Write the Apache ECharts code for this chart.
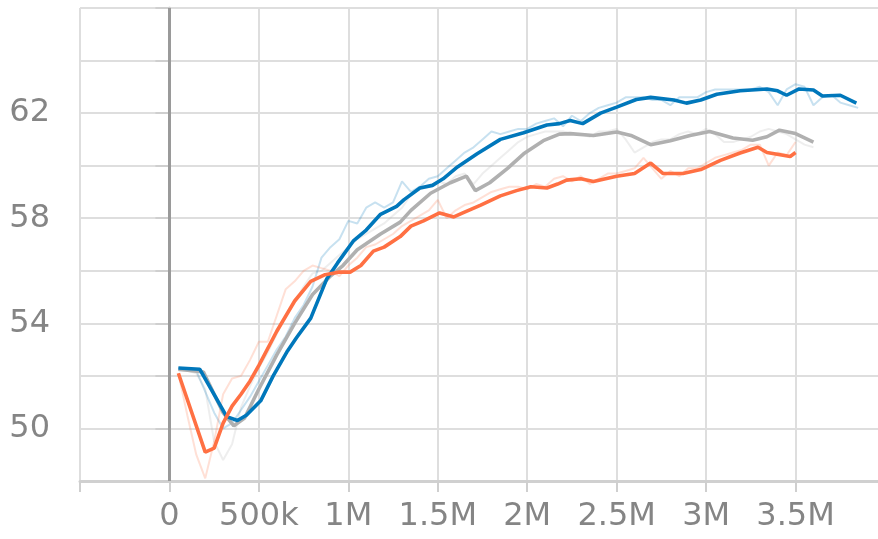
<!DOCTYPE html>
<html>
<head>
<meta charset="utf-8">
<script src="https://cdn.jsdelivr.net/npm/echarts@6/dist/echarts.min.js"></script>
<style>
  html, body { margin: 0; padding: 0; background: #fff; }
  #chart { width: 878px; height: 539px; }
</style>
</head>
<body>
<div id="chart"></div>
<script>
// Steps are in millions; each run has a raw trace and a smoothed trace.
const xTickLabels = { '0': '0', '0.5': '500k', '1': '1M', '1.5': '1.5M', '2': '2M', '2.5': '2.5M', '3': '3M', '3.5': '3.5M' };
const yTickLabels = [50, 54, 58, 62];

const orangeSmooth = [[0.05,52.1],[0.2,49.1],[0.25,49.25],[0.3,50.2],[0.35,50.85],[0.4,51.3],[0.45,51.8],[0.5,52.4],[0.6,53.7],[0.7,54.85],[0.79,55.6],[0.87,55.85],[0.95,55.95],[1.01,55.95],[1.07,56.2],[1.14,56.75],[1.2,56.9],[1.29,57.3],[1.35,57.7],[1.42,57.9],[1.51,58.2],[1.59,58.05],[1.64,58.2],[1.74,58.5],[1.85,58.85],[1.94,59.05],[2.02,59.2],[2.11,59.15],[2.17,59.3],[2.22,59.45],[2.3,59.5],[2.37,59.4],[2.5,59.6],[2.6,59.7],[2.69,60.1],[2.76,59.7],[2.87,59.7],[2.97,59.85],[3.08,60.2],[3.19,60.48],[3.29,60.7],[3.34,60.5],[3.43,60.4],[3.47,60.35],[3.5,60.5]];
const orangeRaw = [[0.05,52.1],[0.1,50.5],[0.15,49.0],[0.2,48.1],[0.25,49.5],[0.3,51.3],[0.35,51.9],[0.4,52.0],[0.45,52.6],[0.5,53.3],[0.55,53.3],[0.6,54.3],[0.65,55.3],[0.7,55.6],[0.75,56.0],[0.8,56.2],[0.85,56.1],[0.9,56.0],[0.95,55.8],[1.0,56.2],[1.05,56.5],[1.1,56.9],[1.15,57.0],[1.2,57.2],[1.25,57.4],[1.3,57.7],[1.35,57.9],[1.4,58.1],[1.45,58.3],[1.5,58.7],[1.55,58.0],[1.6,58.3],[1.65,58.5],[1.7,58.6],[1.75,58.8],[1.8,59.0],[1.85,59.1],[1.9,59.2],[1.95,59.2],[2.0,59.1],[2.05,59.3],[2.1,59.2],[2.15,59.5],[2.2,59.6],[2.25,59.4],[2.3,59.6],[2.35,59.3],[2.4,59.5],[2.45,59.7],[2.5,59.7],[2.55,59.8],[2.6,59.9],[2.65,60.3],[2.7,59.9],[2.75,59.5],[2.8,59.8],[2.85,59.6],[2.9,59.9],[2.95,59.9],[3.0,60.1],[3.05,60.3],[3.1,60.4],[3.15,60.5],[3.2,60.6],[3.25,60.8],[3.3,60.8],[3.35,60.0],[3.4,60.5],[3.45,60.4],[3.5,60.9]];

const blueSmooth = [[0.05,52.3],[0.17,52.25],[0.32,50.45],[0.38,50.3],[0.43,50.5],[0.51,51.05],[0.58,52.0],[0.66,52.95],[0.71,53.45],[0.79,54.2],[0.88,55.7],[0.94,56.3],[1.03,57.15],[1.1,57.55],[1.18,58.15],[1.27,58.45],[1.31,58.7],[1.4,59.15],[1.47,59.25],[1.53,59.5],[1.61,59.95],[1.72,60.45],[1.85,61.0],[1.98,61.25],[2.11,61.55],[2.18,61.6],[2.24,61.72],[2.31,61.6],[2.41,62.0],[2.5,62.23],[2.61,62.52],[2.69,62.6],[2.82,62.5],[2.89,62.38],[2.97,62.5],[3.06,62.72],[3.19,62.85],[3.34,62.92],[3.4,62.85],[3.45,62.68],[3.52,62.92],[3.6,62.88],[3.65,62.65],[3.75,62.68],[3.84,62.38]];
const blueRaw = [[0.05,52.3],[0.1,52.3],[0.15,52.2],[0.2,51.4],[0.25,50.6],[0.3,50.0],[0.35,50.2],[0.4,50.7],[0.45,51.2],[0.5,51.8],[0.55,52.4],[0.6,53.0],[0.65,53.5],[0.7,54.2],[0.75,54.7],[0.8,55.4],[0.85,56.5],[0.9,56.9],[0.95,57.2],[1.0,57.9],[1.05,57.8],[1.1,58.4],[1.15,58.6],[1.2,58.4],[1.25,58.6],[1.3,59.4],[1.35,59.0],[1.4,59.2],[1.45,59.5],[1.5,59.6],[1.55,59.9],[1.6,60.2],[1.65,60.5],[1.7,60.7],[1.75,61.0],[1.8,61.3],[1.85,61.2],[1.9,61.3],[1.95,61.4],[2.0,61.4],[2.05,61.6],[2.1,61.7],[2.15,61.8],[2.2,61.5],[2.25,61.9],[2.3,61.7],[2.35,62.0],[2.4,62.2],[2.45,62.3],[2.5,62.4],[2.55,62.6],[2.6,62.6],[2.65,62.6],[2.7,62.5],[2.75,62.5],[2.8,62.3],[2.85,62.6],[2.9,62.6],[2.95,62.6],[3.0,62.8],[3.05,62.9],[3.1,62.9],[3.15,62.9],[3.2,62.9],[3.25,62.9],[3.3,63.0],[3.35,62.8],[3.4,62.3],[3.45,62.9],[3.5,63.1],[3.55,63.0],[3.6,62.3],[3.65,62.6],[3.7,62.7],[3.75,62.4],[3.8,62.3],[3.85,62.2]];

const greySmooth = [[0.05,52.25],[0.19,52.15],[0.3,50.6],[0.36,50.1],[0.42,50.4],[0.5,51.5],[0.6,52.8],[0.7,54.0],[0.8,55.1],[0.9,55.8],[0.97,56.2],[1.05,56.8],[1.18,57.4],[1.29,57.85],[1.35,58.3],[1.46,58.95],[1.57,59.35],[1.66,59.6],[1.71,59.05],[1.79,59.35],[1.89,59.9],[1.98,60.45],[2.09,60.95],[2.18,61.2],[2.24,61.22],[2.37,61.15],[2.5,61.28],[2.58,61.15],[2.69,60.8],[2.8,60.95],[2.91,61.15],[3.02,61.3],[3.15,61.05],[3.26,60.97],[3.34,61.1],[3.41,61.35],[3.5,61.22],[3.6,60.9]];
const greyRaw = [[0.05,52.2],[0.1,52.2],[0.15,52.1],[0.2,51.5],[0.25,49.5],[0.3,48.8],[0.35,49.4],[0.4,50.8],[0.45,51.6],[0.5,52.3],[0.55,52.9],[0.6,53.6],[0.65,54.3],[0.7,54.8],[0.75,55.4],[0.8,55.9],[0.85,56.0],[0.9,56.3],[0.95,56.6],[1.0,56.9],[1.05,57.2],[1.1,57.4],[1.15,57.6],[1.2,57.8],[1.25,58.1],[1.3,58.4],[1.35,58.9],[1.4,59.1],[1.45,59.2],[1.5,59.4],[1.55,59.3],[1.6,59.6],[1.65,59.7],[1.7,59.3],[1.75,59.7],[1.8,60.0],[1.85,60.3],[1.9,60.6],[1.95,60.9],[2.0,61.1],[2.05,61.2],[2.1,61.3],[2.15,61.3],[2.2,61.3],[2.25,61.2],[2.3,61.2],[2.35,61.1],[2.4,61.3],[2.45,61.3],[2.5,61.4],[2.55,61.0],[2.6,60.5],[2.65,60.7],[2.7,60.9],[2.75,61.0],[2.8,61.0],[2.85,61.2],[2.9,61.3],[2.95,61.2],[3.0,61.4],[3.05,61.2],[3.1,60.9],[3.15,60.9],[3.2,61.0],[3.25,61.1],[3.3,61.3],[3.35,61.4],[3.4,61.3],[3.45,61.2],[3.5,61.0],[3.55,60.8],[3.6,60.7]];

const COLORS = { blue: '#0077bb', orange: '#ff7043', grey: '#b0b0b0' };
const LABEL_FONT = 'DejaVu Sans, sans-serif';

function rawLine(data, color) {
  return {
    type: 'line', data: data, showSymbol: false, silent: true, z: 2,
    lineStyle: { color: color, width: 2, opacity: 0.22 }
  };
}
function smoothLine(data, color, z) {
  return {
    type: 'line', data: data, showSymbol: false, silent: true, z: z,
    lineStyle: { color: color, width: 3.6 }
  };
}

const chart = echarts.init(document.getElementById('chart'), null, { renderer: 'canvas' });
chart.setOption({
  animation: false,
  backgroundColor: '#fff',
  grid: { left: 80, top: 8, bottom: 58, right: -7, containLabel: false, outerBoundsMode: 'none' },
  xAxis: {
    type: 'value', min: -0.5, max: 4, interval: 0.5,
    axisLine: { show: true, lineStyle: { color: '#d0d0d0', width: 3 } },
    axisTick: { show: true, length: 11, lineStyle: { color: '#cfcfcf', width: 2 } },
    splitLine: { show: true, lineStyle: { color: '#dedede', width: 2 } },
    axisLabel: {
      margin: 20, color: '#858585', fontSize: 32, fontFamily: LABEL_FONT,
      formatter: v => { const k = String(Math.round(v * 10) / 10); return xTickLabels[k] !== undefined ? xTickLabels[k] : ''; }
    }
  },
  yAxis: {
    type: 'value', min: 48, max: 66, interval: 2,
    axisLine: { show: true, lineStyle: { color: '#d0d0d0', width: 3 } },
    axisTick: { show: true, length: 14, lineStyle: { color: '#cfcfcf', width: 2 } },
    splitLine: { show: true, lineStyle: { color: '#dedede', width: 2 } },
    axisLabel: {
      margin: 30, color: '#858585', fontSize: 32, fontFamily: LABEL_FONT,
      formatter: v => yTickLabels.indexOf(Math.round(v)) >= 0 ? String(Math.round(v)) : ''
    }
  },
  series: [
    {
      type: 'line', data: [], silent: true, z: 1,
      markLine: {
        silent: true, symbol: 'none', label: { show: false },
        lineStyle: { color: '#9a9a9a', width: 3, type: 'solid' },
        data: [{ xAxis: 0 }]
      }
    },
    rawLine(greyRaw, COLORS.grey),
    rawLine(blueRaw, COLORS.blue),
    rawLine(orangeRaw, COLORS.orange),
    smoothLine(greySmooth, COLORS.grey, 3),
    smoothLine(blueSmooth, COLORS.blue, 4),
    smoothLine(orangeSmooth, COLORS.orange, 5)
  ]
});
</script>
</body>
</html>
